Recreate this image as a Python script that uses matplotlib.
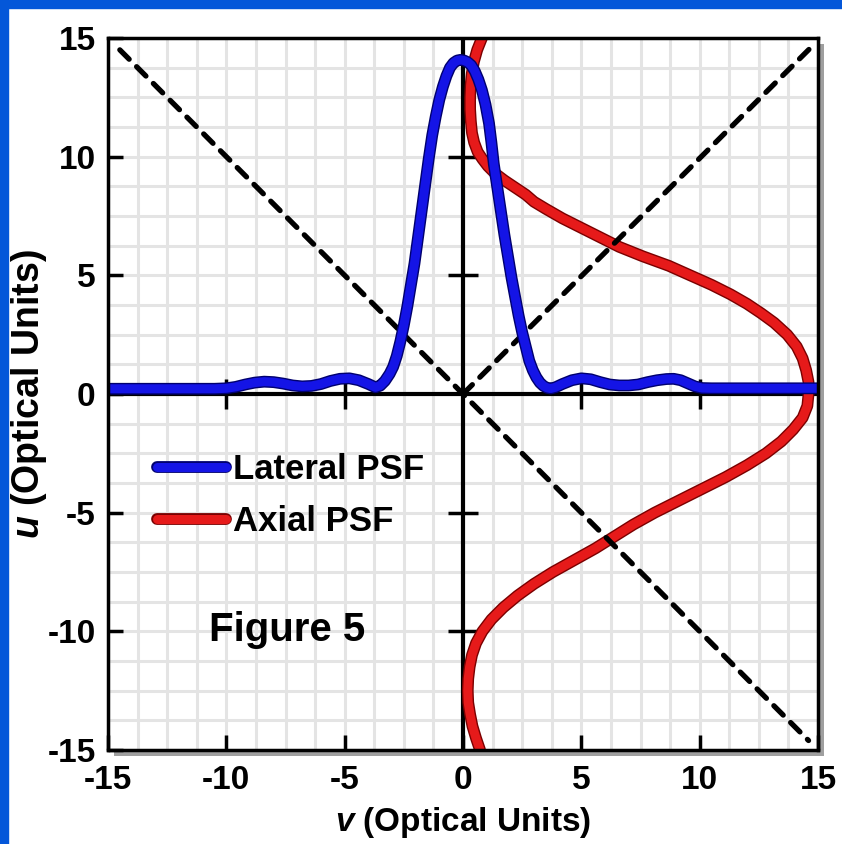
import matplotlib
matplotlib.use("Agg")
import matplotlib.pyplot as plt
import matplotlib.patheffects as pe
from matplotlib.patches import Rectangle
import numpy as np

plt.rcParams['font.family'] = ['Liberation Sans', 'DejaVu Sans']
plt.rcParams['font.weight'] = 'bold'
plt.rcParams['axes.labelweight'] = 'bold'
plt.rcParams['axes.unicode_minus'] = False
plt.rcParams['mathtext.fontset'] = 'custom'
plt.rcParams['mathtext.it'] = 'Liberation Sans:italic:bold'

# lateral PSF: u plotted against v
lat_v = [-15, -10.5, -10.0, -9.6, -9.2, -8.8, -8.4, -8.0, -7.6, -7.2, -6.8, -6.4,
         -6.0, -5.6, -5.2, -4.8, -4.4, -4.0, -3.7, -3.5, -3.3, -3.1, -2.95, -2.8,
         -2.65, -2.5, -2.35, -2.2, -2.05, -1.9, -1.75, -1.6, -1.45, -1.3, -1.15,
         -1.0, -0.85, -0.7, -0.55, -0.4, -0.25, -0.1, 0.05, 0.2, 0.35, 0.5, 0.65,
         0.8, 0.95, 1.1, 1.2, 1.3, 1.45, 1.6, 1.75, 1.9, 2.05, 2.2, 2.35, 2.5,
         2.65, 2.8, 2.95, 3.1, 3.25, 3.4, 3.55, 3.7, 3.9, 4.2, 4.6, 5.0, 5.4, 5.8,
         6.2, 6.6, 7.0, 7.4, 7.8, 8.2, 8.6, 8.9, 9.2, 9.5, 9.8, 10.1, 10.5, 15]
lat_u = [0.22, 0.22, 0.24, 0.3, 0.4, 0.48, 0.52, 0.5, 0.44, 0.36, 0.32, 0.34,
         0.42, 0.55, 0.64, 0.66, 0.58, 0.42, 0.28, 0.35, 0.55, 0.85, 1.15, 1.6,
         2.2, 2.9, 3.7, 4.6, 5.5, 6.6, 7.7, 8.8, 9.9, 10.9, 11.7,
         12.4, 12.95, 13.4, 13.75, 13.95, 14.05, 14.08, 14.05, 13.98, 13.85, 13.6, 13.25,
         12.8, 12.2, 11.4, 10.6, 9.7, 8.7, 7.7, 6.7, 5.8, 4.9, 4.1, 3.3, 2.6,
         2.0, 1.4, 1.0, 0.7, 0.48, 0.34, 0.26, 0.23, 0.28, 0.42, 0.58, 0.66, 0.62, 0.5,
         0.4, 0.36, 0.36, 0.4, 0.5, 0.58, 0.63, 0.64, 0.58, 0.45, 0.32, 0.25, 0.24, 0.24]

# axial PSF: v plotted against u
ax_u = [15.0, 14.5, 14.0, 13.5, 13.0, 12.5, 12.0, 11.5, 11.0, 10.6, 10.2, 9.9,
        9.6, 9.3, 9.0, 8.7, 8.4, 8.1, 7.8, 7.4, 7.0, 6.6, 6.2, 5.8, 5.4, 5.0,
        4.6, 4.2, 3.8, 3.4, 3.0, 2.5, 2.0, 1.5, 1.0, 0.5, 0.0, -0.5, -1.0, -1.5,
        -2.0, -2.5, -3.0, -3.5, -4.0, -4.5, -5.0, -5.5, -6.0, -6.5, -7.0, -7.5,
        -8.0, -8.5, -9.0, -9.5, -10.0, -10.5, -11.0, -11.5, -12.0, -12.5, -13.0,
        -13.5, -14.0, -14.5, -15.0]
ax_v = [0.8, 0.6, 0.46, 0.37, 0.32, 0.3, 0.3, 0.33, 0.38, 0.47, 0.62, 0.82,
        1.05, 1.35, 1.75, 2.2, 2.65, 3.0, 3.5, 4.2, 5.0, 5.8, 6.6, 7.6, 8.7, 9.6,
        10.5, 11.3, 12.0, 12.6, 13.15, 13.7, 14.1, 14.35, 14.5, 14.6, 14.6, 14.55, 14.35, 13.95,
        13.45, 12.8, 12.0, 11.1, 10.1, 9.1, 8.1, 7.2, 6.4, 5.6, 4.7, 3.8,
        3.0, 2.3, 1.7, 1.2, 0.82, 0.55, 0.38, 0.28, 0.22, 0.2, 0.22,
        0.3, 0.4, 0.55, 0.72]

diag_down = ([-14.5, 14.6], [14.5, -14.6])
diag_up = ([0, 14.7], [0, 14.6])

ticks = [-15, -10, -5, 0, 5, 10, 15]
cross_ticks = [-10, -5, 5, 10]

fig = plt.figure(figsize=(8.42, 8.44), dpi=100)
fig.patches.append(Rectangle((0, 0), 8 / 842, 1, transform=fig.transFigure,
                             color='#0457d9', zorder=0))
fig.patches.append(Rectangle((0, 1 - 8 / 844), 1, 8 / 844, transform=fig.transFigure,
                             color='#0457d9', zorder=0))

ax = fig.add_axes([108 / 842, 94 / 844, 710 / 842, 712 / 844])
ax.patch.set_path_effects([pe.SimplePatchShadow(offset=(4, -4), shadow_rgbFace='#777777', alpha=0.7),
                           pe.Normal()])
ax.set_xlim(-15, 15)
ax.set_ylim(-15, 15)

ax.set_xticks(ticks)
ax.set_yticks(ticks)
ax.set_xticks(np.arange(-15, 15.01, 1.25), minor=True)
ax.set_yticks(np.arange(-15, 15.01, 1.25), minor=True)
ax.tick_params(which='minor', length=0)
ax.tick_params(which='major', direction='in', length=11, width=2.5, labelsize=24)
ax.tick_params(axis='x', pad=11)
ax.tick_params(axis='y', pad=9)
ax.grid(which='both', color='#e4e4e4', lw=2.2, zorder=0)
ax.set_axisbelow(True)
for s in ax.spines.values():
    s.set_linewidth(2.5)
    s.set_zorder(6)

ax.axhline(0, color='black', lw=3, zorder=1)
ax.axvline(0, color='black', lw=3, zorder=1)
ax.plot(cross_ticks, [0] * len(cross_ticks), ls='none', marker='|', ms=21, mew=2.5,
        color='black', zorder=1)
ax.plot([0] * len(cross_ticks), cross_ticks, ls='none', marker='_', ms=21, mew=2.5,
        color='black', zorder=1)

ax.plot(ax_v, ax_u, color='#e61a1a', lw=6.5, solid_capstyle='round', solid_joinstyle='round',
        zorder=2, label='Axial PSF',
        path_effects=[pe.Stroke(linewidth=8.5, foreground='#7a0000'), pe.Normal()])
ax.plot(*diag_down, color='black', lw=3.8, dashes=(2.5, 2.0), dash_capstyle='round', zorder=3)
ax.plot(*diag_up, color='black', lw=3.8, dashes=(2.5, 2.0), dash_capstyle='round', zorder=3)
ax.plot(lat_v, lat_u, color='#1414e6', lw=6.5, solid_capstyle='round', solid_joinstyle='round',
        zorder=4, label='Lateral PSF',
        path_effects=[pe.Stroke(linewidth=8.5, foreground='#00006e'), pe.Normal()])

h, l = ax.get_legend_handles_labels()
ax.legend(h[::-1], l[::-1], loc='center left', bbox_to_anchor=(0.069, 0.357), frameon=False,
          fontsize=25, handlelength=2.0, handletextpad=0.2, labelspacing=0.55,
          borderpad=0, borderaxespad=0)

ax.text(-7.44, -9.95, 'Figure 5', fontsize=29, ha='center', va='center', zorder=5)

ax.set_xlabel('$v$ (Optical Units)', fontsize=24)
ax.set_ylabel('$u$ (Optical Units)', fontsize=27)
ax.xaxis.set_label_coords(0.5, -0.077)
ax.yaxis.set_label_coords(-0.0825, 0.5)

fig.savefig('out.png', dpi=100)
